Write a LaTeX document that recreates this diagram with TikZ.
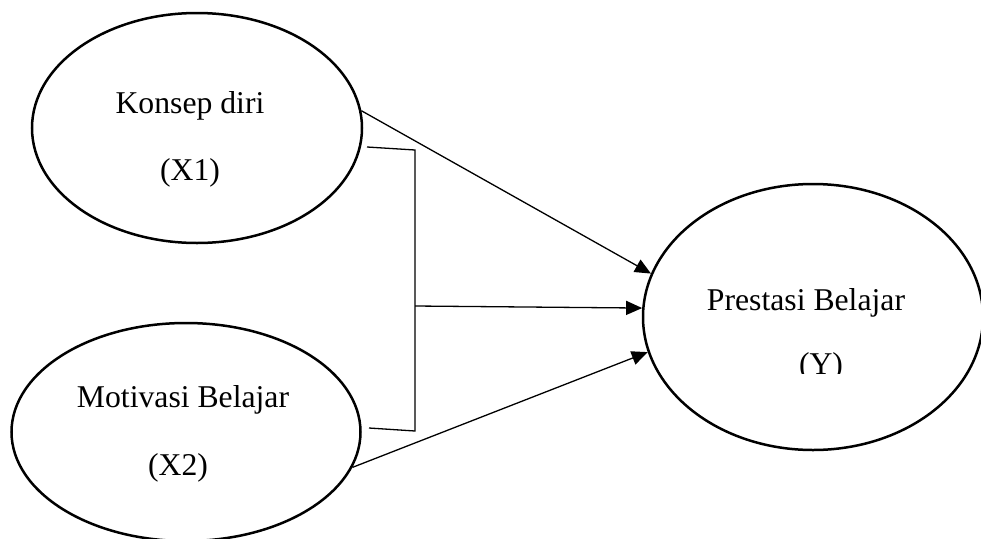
\documentclass[tikz,border=0pt]{standalone}
\usepackage{fontspec}
\setmainfont{Liberation Serif}
\usetikzlibrary{arrows.meta,shapes.geometric}

\tikzset{
  var/.style={draw, ellipse, line width=2.5pt, inner sep=0pt},
  lbl/.style={anchor=base, inner sep=0pt, font=\fontsize{31.7}{38}\selectfont},
  link/.style={line width=1.3pt},
  arr/.style={link, -{Triangle[length=16pt,width=14pt]}}
}

\begin{document}
\begin{tikzpicture}[x=1pt, y=-1pt]
			%%%%% FRAME %%%%%
			\useasboundingbox (0, 0) rectangle (981, 538);
			\clip (0, 0) rectangle (981, 538);
			
			%%%%% VARIABLES %%%%%
			\node[var, minimum width=330pt, minimum height=230pt] (x1) at (197, 128) {};
			\node[var, minimum width=349pt, minimum height=218pt] (x2) at (186, 432) {};
			\node[var, minimum width=340pt, minimum height=266pt] (y) at (813, 317) {};
			
			\node[lbl] (x1name) at (190, 113) {Konsep diri};
			\node[lbl] (x1code) at (190, 180) {(X1)};
			\node[lbl] (x2name) at (183, 407) {Motivasi Belajar};
			\node[lbl] (x2code) at (178, 475) {(X2)};
			\node[lbl] (yname) at (806, 310) {Prestasi Belajar};
			\begin{scope}
				\clip (700, 330) rectangle (900, 373);
				\node[lbl] (ycode) at (821, 374) {(Y)};
			\end{scope}
			
			%%%%% BRACKET %%%%%
			\coordinate (btop) at (367, 147);
			\coordinate (bup) at (415, 150);
			\coordinate (bmid) at (415, 306);
			\coordinate (bdown) at (415, 431);
			\coordinate (bbot) at (369, 428);
			\draw[link] (btop) -- (bup) -- (bdown) -- (bbot);
			
			%%%%% ARROWS %%%%%
			\draw[arr] (x1.6) -- (y.165);
			\draw[arr] (bmid) -- (y.177);
			\draw[arr] (x2.-12) -- (y.192);
			
\end{tikzpicture}
\end{document}
